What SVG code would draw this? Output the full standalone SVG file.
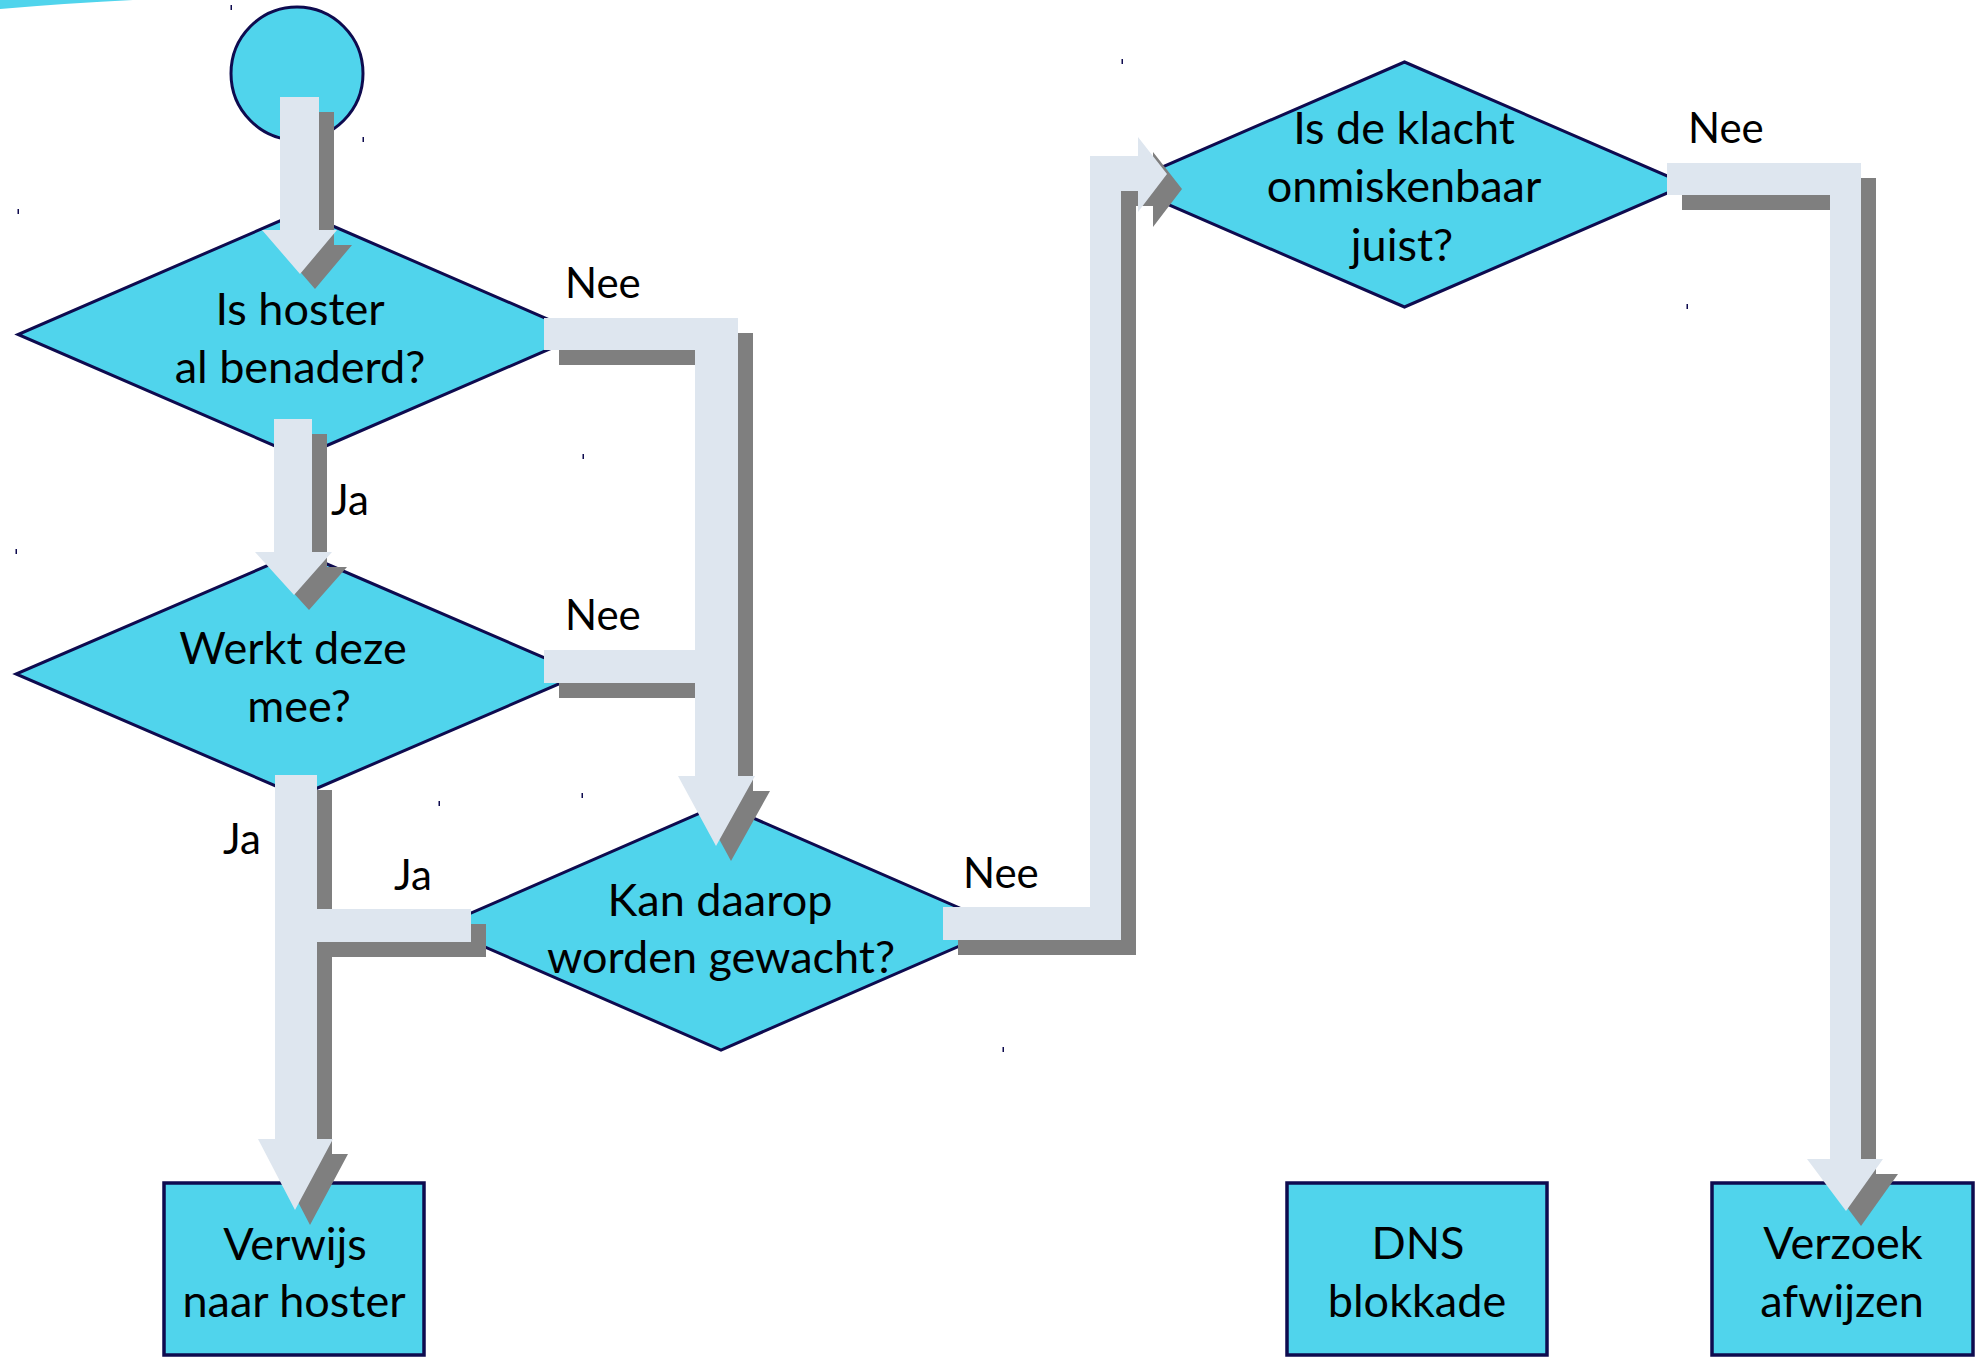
<svg xmlns="http://www.w3.org/2000/svg" xmlns:xlink="http://www.w3.org/1999/xlink" width="1984" height="1357" viewBox="0 0 1984 1357">
<style>
.node{fill:#50D4EC;stroke:#0E0B4F;stroke-width:3}
.box{fill:#50D4EC;stroke:#0E0B4F;stroke-width:3.5}
.t{font-family:Lato,"Open Sans",sans-serif;font-size:45px;fill:#000;text-anchor:middle}
.lbl{font-family:Lato,"Open Sans",sans-serif;font-size:42px;fill:#000}
.shadow{fill:#7F7F7F}
.light{fill:#DEE6EF}
.tick{fill:#0E0B4F}
</style>
<defs>
<path id="c1" d="M280,97 H319 V230 H337 L300,274 L262,230 H280 Z"/>
<path id="c2" d="M274,419 H312 V552 H332 L294,595 L255,552 H274 Z"/>
<path id="c3" d="M275,775 H317 V909 H471 V942 H317 V1139 H333 L295,1210 L258,1139 H275 Z"/>
<path id="c4" d="M544,318 H738 V776 H755 L716,846 L678,776 H695 V683 H544 V650 H695 V350 H544 Z"/>
<path id="c5" d="M943,907 H1090 V156 H1138 V137 L1167,174 L1138,212 V191 H1121 V940 H943 Z"/>
<path id="c6" d="M1667,163 H1861 V1159 H1883 L1846,1211 L1807,1159 H1830 V195 H1667 Z"/>
</defs>
<rect width="1984" height="1357" fill="#fff"/>
<path d="M0,0 H133 Q70,3 0,9 Z" fill="#50D4EC"/>
<g id="ticks">
<rect class="tick" x="230.5" y="5" width="1.5" height="5"/>
<rect class="tick" x="362.5" y="137" width="1.5" height="5"/>
<rect class="tick" x="17.5" y="209" width="1.5" height="5"/>
<rect class="tick" x="582.5" y="454" width="1.5" height="5"/>
<rect class="tick" x="15.5" y="549" width="1.5" height="5"/>
<rect class="tick" x="581.5" y="793" width="1.5" height="5"/>
<rect class="tick" x="438.5" y="801" width="1.5" height="5"/>
<rect class="tick" x="1002.5" y="1047" width="1.5" height="5"/>
<rect class="tick" x="1121.5" y="59" width="1.5" height="5"/>
<rect class="tick" x="1686.5" y="304" width="1.5" height="5"/>
</g>
<g id="start">
<ellipse class="node" cx="297" cy="73.5" rx="66" ry="66.5"/>
</g>
<g id="d1">
<polygon class="node" points="300.5,212 583,334.5 300.5,457 18,334.5"/>
<text class="t" x="300" y="325">Is hoster</text>
<text class="t" x="300" y="383">al benaderd?</text>
</g>
<g id="d2">
<polygon class="node" points="299,552 582,674 299,796 16,674"/>
<text class="t" x="293" y="664">Werkt deze</text>
<text class="t" x="299" y="722">mee?</text>
</g>
<g id="d3">
<polygon class="node" points="721,804 1003,927 721,1050 439,927"/>
<text class="t" x="720" y="916">Kan daarop</text>
<text class="t" x="721" y="973">worden gewacht?</text>
</g>
<g id="d4">
<polygon class="node" points="1404.5,62 1687,184.5 1404.5,307 1122,184.5"/>
<text class="t" x="1404" y="144">Is de klacht</text>
<text class="t" x="1404" y="202">onmiskenbaar</text>
<text class="t" x="1402" y="261">juist?</text>
</g>
<g id="b1">
<rect class="box" x="164" y="1183" width="260" height="172"/>
<text class="t" x="295" y="1260">Verwijs</text>
<text class="t" x="294" y="1317">naar hoster</text>
</g>
<g id="b2">
<rect class="box" x="1287" y="1183" width="260" height="172"/>
<text class="t" x="1418" y="1259">DNS</text>
<text class="t" x="1417" y="1317">blokkade</text>
</g>
<g id="b3">
<rect class="box" x="1712" y="1183" width="261" height="172"/>
<text class="t" x="1843" y="1259">Verzoek</text>
<text class="t" x="1842" y="1317">afwijzen</text>
</g>
<g id="connectors">
<use xlink:href="#c1" class="shadow" transform="translate(15,15)"/>
<use xlink:href="#c1" class="light"/>
<use xlink:href="#c2" class="shadow" transform="translate(15,15)"/>
<use xlink:href="#c2" class="light"/>
<use xlink:href="#c3" class="shadow" transform="translate(15,15)"/>
<use xlink:href="#c3" class="light"/>
<use xlink:href="#c4" class="shadow" transform="translate(15,15)"/>
<use xlink:href="#c4" class="light"/>
<use xlink:href="#c5" class="shadow" transform="translate(15,15)"/>
<use xlink:href="#c5" class="light"/>
<use xlink:href="#c6" class="shadow" transform="translate(15,15)"/>
<use xlink:href="#c6" class="light"/>
<text class="lbl" x="565" y="298">Nee</text>
<text class="lbl" x="331" y="515">Ja</text>
<text class="lbl" x="565" y="630">Nee</text>
<text class="lbl" x="223" y="854">Ja</text>
<text class="lbl" x="394" y="890">Ja</text>
<text class="lbl" x="963" y="888">Nee</text>
<text class="lbl" x="1688" y="143">Nee</text>
</g>
</svg>
